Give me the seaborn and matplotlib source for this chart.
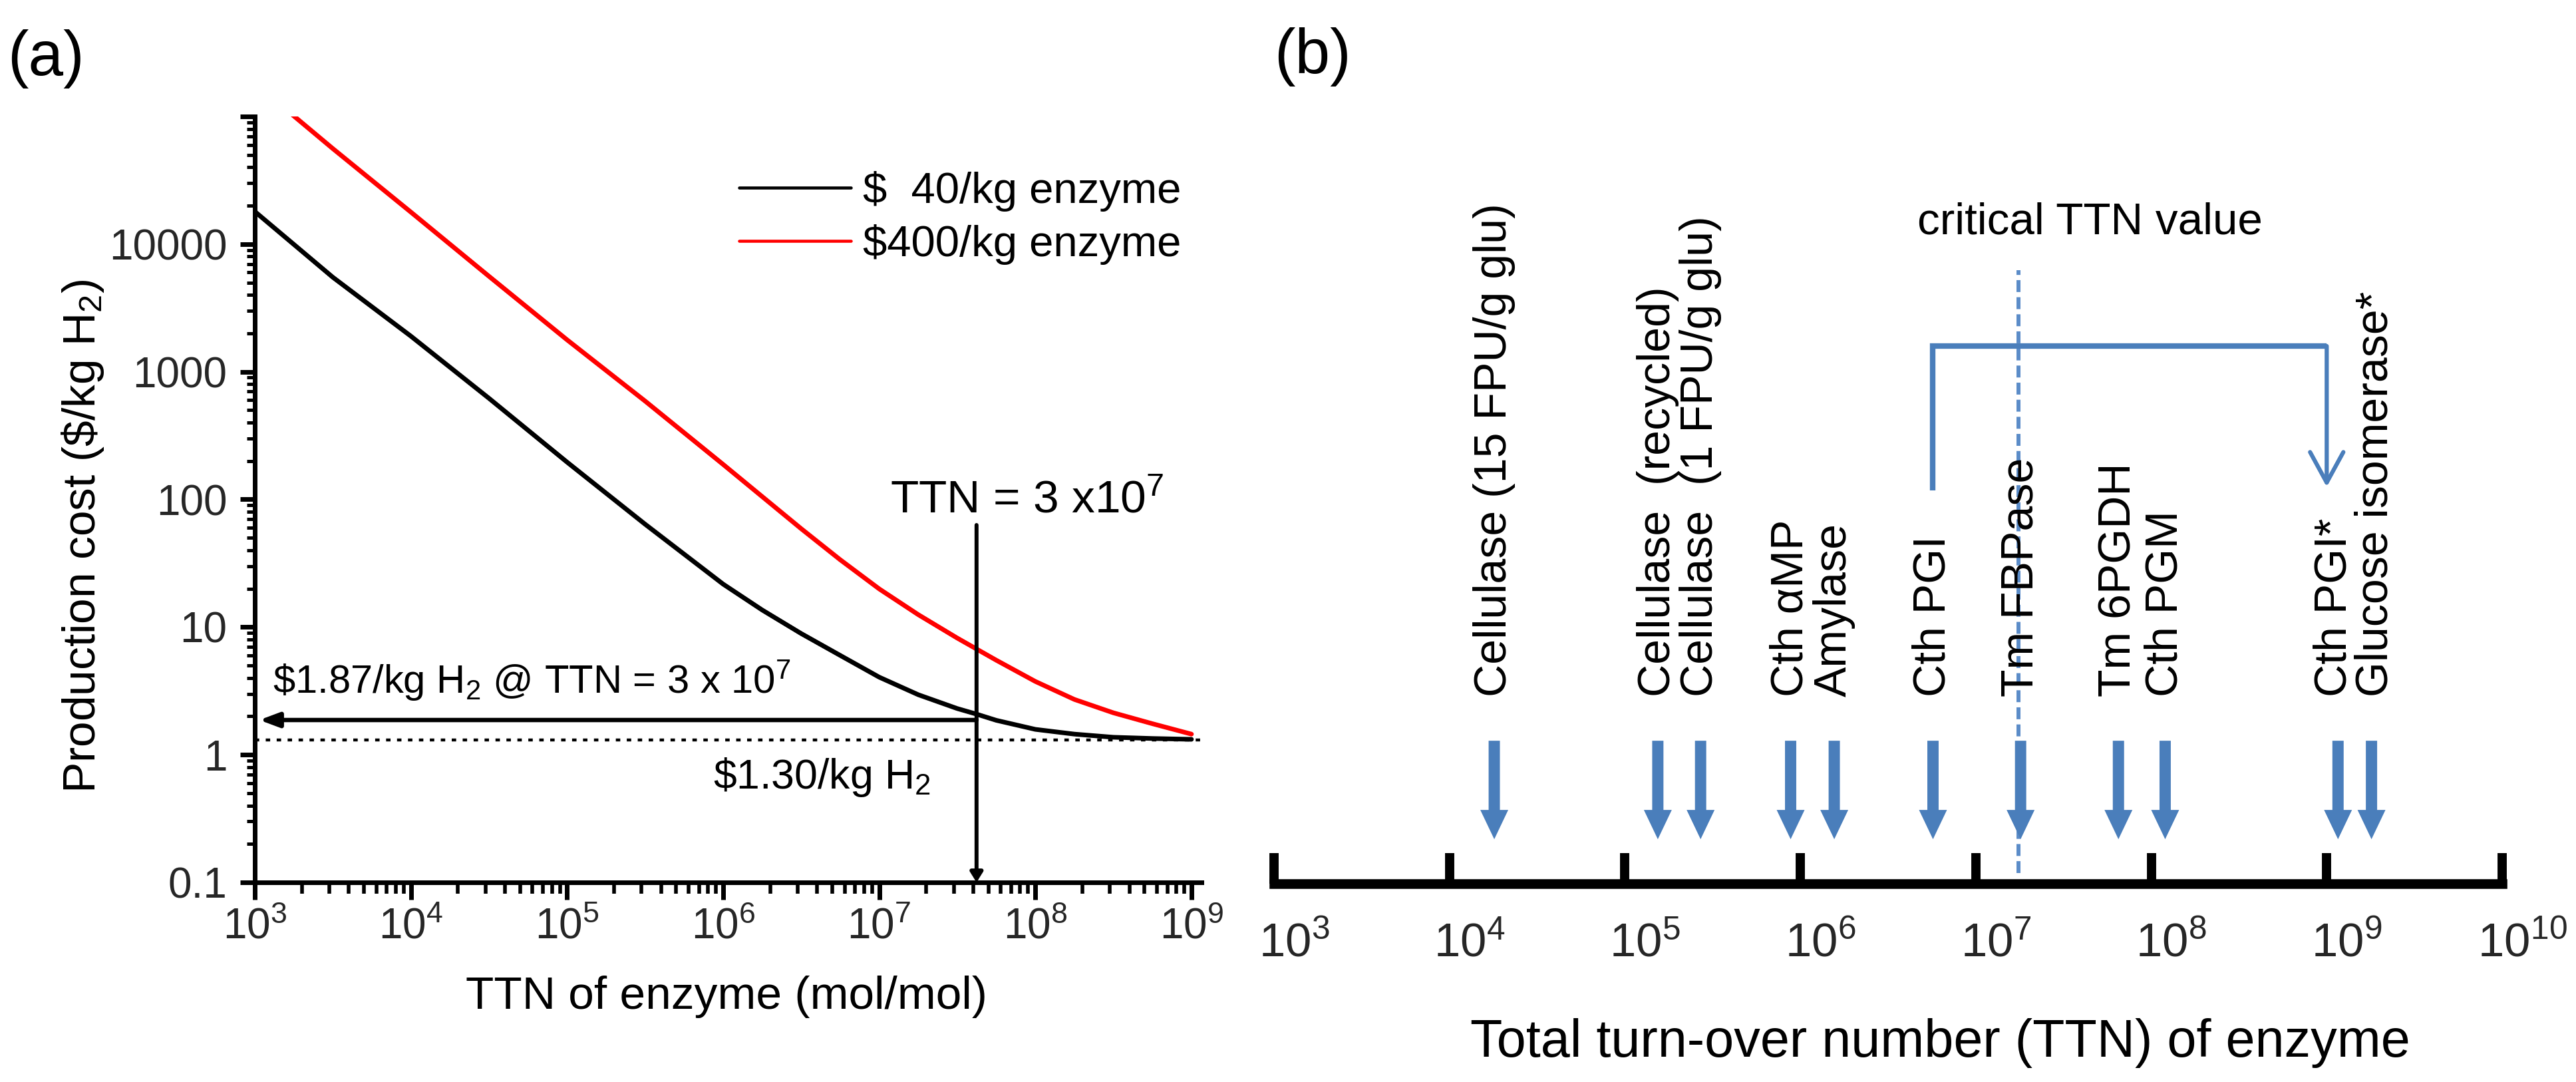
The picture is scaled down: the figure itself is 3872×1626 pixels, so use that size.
import numpy as np
import pandas as pd
import matplotlib
matplotlib.use("Agg")
import matplotlib.pyplot as plt
import matplotlib.ticker as mticker
from matplotlib.transforms import ScaledTranslation
import seaborn as sns

# ---------------- data: panel (a) ----------------
black_ttn = [1e3, 3.16e3, 1e4, 3.16e4, 1e5, 3.16e5, 1e6, 1.78e6, 3.16e6, 5.62e6, 1e7, 1.78e7,
             3.16e7, 4.2e7, 5.62e7, 1e8, 1.78e8, 3.16e8, 5.62e8, 1e9]
black_cost = [18000, 5500, 1900, 620, 196, 64, 21.7, 13.6, 8.9, 6.0, 4.05, 2.95,
              2.3, 2.08, 1.86, 1.58, 1.45, 1.37, 1.34, 1.32]
red_ttn = [1.5e3, 3.16e3, 1e4, 3.16e4, 1e5, 3.16e5, 1e6, 3.16e6, 5.62e6, 1e7, 1.78e7,
           3.16e7, 5.62e7, 1e8, 1.78e8, 3.16e8, 5.62e8, 1e9]
red_cost = [120000, 56000, 17800, 5600, 1780, 590, 188, 59, 33.7, 19.9, 12.5,
            8.2, 5.5, 3.75, 2.71, 2.13, 1.75, 1.45]
series_labels = ["\\$  40/kg enzyme", "\\$400/kg enzyme"]
series_colors = ["black", "red"]
base_cost = 1.30
marker_ttn = 4.2e7
marker_cost = 1.87
a_xticks = [1e3, 1e4, 1e5, 1e6, 1e7, 1e8, 1e9]
a_xticklabels = [r"$\mathregular{10^{%d}}$" % e for e in range(3, 10)]
a_yticks = [0.1, 1, 10, 100, 1000, 10000, 100000]
a_yticklabels = ["0.1", "1", "10", "100", "1000", "10000", ""]

# ---------------- data: panel (b) ----------------
enzymes = ["Cellulase (15 FPU/g glu)", "Cellulase  (recycled)", "Cellulase  (1 FPU/g glu)",
           "Cth \u03b1MP", "Amylase", "Cth PGI", "Tm FBPase", "Tm 6PGDH", "Cth PGM",
           "Cth PGI*", "Glucose isomerase*"]
enzyme_ttn = [1.8e4, 1.54e5, 2.7e5, 8.8e5, 1.56e6, 5.7e6, 1.8e7, 6.5e7, 1.2e8, 1.16e9, 1.8e9]
critical_ttn = 1.75e7
bracket_from = 5.7e6
bracket_to = 1.0e9
b_xticks = [1e3, 1e4, 1e5, 1e6, 1e7, 1e8, 1e9, 1e10]
b_xticklabels = [r"$\mathregular{10^{%d}}$" % e for e in range(3, 11)]

# ---------------- style ----------------
sns.set_style("white")
plt.rcParams["font.family"] = ["Liberation Sans", "DejaVu Sans"]
plt.rcParams["mathtext.fontset"] = "custom"
plt.rcParams["mathtext.rm"] = "Liberation Sans"
plt.rcParams["mathtext.it"] = "Liberation Sans:italic"
plt.rcParams["mathtext.bf"] = "Liberation Sans:bold"
plt.rcParams["text.color"] = "black"

W, H = 3873, 1626
fig = plt.figure(figsize=(W / 100, H / 100), dpi=100)
fig.patch.set_facecolor("white")

# ================= panel (a) =================
axA = fig.add_axes([383 / W, 1 - 1326 / H, (1806 - 383) / W, (1326 - 175) / H])
axA.set_xscale("log")
axA.set_yscale("log")

df = pd.DataFrame({
    "ttn": black_ttn + red_ttn,
    "cost": black_cost + red_cost,
    "price": [series_labels[0]] * len(black_ttn) + [series_labels[1]] * len(red_ttn),
})
sns.lineplot(data=df, x="ttn", y="cost", hue="price", hue_order=series_labels,
             palette=dict(zip(series_labels, series_colors)), linewidth=5,
             estimator=None, sort=False, ax=axA)

axA.set_xlim(1e3, 1.16e9)
axA.set_ylim(0.1, 1e5)
axA.set_xlabel("")
axA.set_ylabel("")
axA.set_facecolor("white")
for s in ["top", "right"]:
    axA.spines[s].set_visible(False)
for s in ["left", "bottom"]:
    axA.spines[s].set_linewidth(5)
    axA.spines[s].set_color("black")

axA.set_xticks(a_xticks, a_xticklabels)
axA.set_yticks(a_yticks, a_yticklabels)
axA.xaxis.set_minor_locator(mticker.LogLocator(base=10, subs=np.arange(2, 10), numticks=30))
axA.yaxis.set_minor_locator(mticker.LogLocator(base=10, subs=np.arange(2, 10), numticks=30))
axA.xaxis.set_minor_formatter(mticker.NullFormatter())
axA.yaxis.set_minor_formatter(mticker.NullFormatter())
axA.tick_params(axis="x", which="major", direction="out", length=19, width=5, pad=8,
                labelsize=46, color="black", bottom=True)
axA.tick_params(axis="x", which="minor", direction="out", length=12, width=4, bottom=True, color="black")
axA.tick_params(axis="y", which="major", direction="out", length=16, width=5, pad=14,
                labelsize=46, color="black", left=True)
axA.tick_params(axis="y", which="minor", direction="out", length=9, width=3.6, left=True, color="black")

h, l = axA.get_legend_handles_labels()
leg = axA.legend(h, series_labels, loc="upper left", bbox_to_anchor=(1111 / W, 1 - 257 / H),
                 bbox_transform=fig.transFigure, frameon=False, fontsize=47,
                 handlelength=2.57, handletextpad=0.28, labelspacing=0.29,
                 borderpad=0, borderaxespad=0)
for ln in leg.get_lines():
    ln.set_linewidth(3.3)

# reference lines and arrows
axA.axhline(base_cost, color="black", lw=3.2, ls=(0, (1.5, 2.2)))
axA.annotate("", xy=(marker_ttn, 0.1), xytext=(marker_ttn, 63),
             arrowprops=dict(arrowstyle="-|>,head_length=0.4,head_width=0.25", mutation_scale=22,
                             color="black", lw=4.3, shrinkA=0, shrinkB=0))
axA.annotate("", xy=(1.07e3, marker_cost), xytext=(marker_ttn, marker_cost),
             arrowprops=dict(arrowstyle="-|>,head_length=0.8,head_width=0.3", mutation_scale=22,
                             color="black", lw=4.7, shrinkA=0, shrinkB=0))

axA.text(1.17e7, 78.7, r"TTN = 3 x$\mathregular{10^{7}}$", fontsize=50, ha="left", va="baseline")
axA.text(1.30e3, 3.05, r"\$1.87/kg H$\mathregular{_{2}}$ @ TTN = 3 x $\mathregular{10^{7}}$",
         fontsize=43, ha="left", va="baseline")
axA.text(8.63e5, 0.542, r"\$1.30/kg H$\mathregular{_{2}}$", fontsize=45, ha="left", va="baseline")

fig.text(125 / W, 1 - 806 / H, r"Production cost (\$/kg H$\mathregular{_{2}}$)", rotation=90,
         fontsize=50, ha="center", va="center")
fig.text(1092 / W, 1 - 1516 / H, "TTN of enzyme (mol/mol)", fontsize=50, ha="center", va="baseline")
fig.text(11 / W, 1 - 113 / H, "(a)", fontsize=68, ha="left", va="baseline")

# ================= panel (b) =================
blue = "#4A7EBB"
axB = fig.add_axes([1915 / W, 1 - 1328 / H, (3761 - 1915) / W, (1328 - 300) / H])
axB.set_xscale("log")
axB.set_xlim(1e3, 1e10)
axB.set_ylim(0, 1)
axB.set_facecolor("none")
for s in ["top", "right", "left"]:
    axB.spines[s].set_visible(False)
axB.spines["bottom"].set_linewidth(10.5)
axB.spines["bottom"].set_color("black")
axB.set_yticks([])
axB.set_xticks(b_xticks, b_xticklabels)
axB.xaxis.set_minor_locator(mticker.NullLocator())
axB.tick_params(axis="x", which="major", direction="in", length=33, width=10, pad=42,
                labelsize=51, color="black", bottom=True)
for lab in axB.get_xticklabels():
    lab.set_transform(lab.get_transform() + ScaledTranslation(0.30, 0, fig.dpi_scale_trans))

xt = axB.get_xaxis_transform()
for t in enzyme_ttn:
    axB.annotate("", xy=(t, 0.065), xytext=(t, 0.209), xycoords=xt, textcoords=xt,
                 arrowprops=dict(arrowstyle="simple,head_length=31.7,head_width=30.2,tail_width=12.2",
                                 mutation_scale=1, color=blue, lw=0, shrinkA=0, shrinkB=0))

# labels: arrows that sit very close together share one two-line text block
groups = []
for name, t in zip(enzymes, enzyme_ttn):
    if groups and t / groups[-1][1][-1] < 1.6:
        groups[-1][0].append(name)
        groups[-1][1].append(t)
    else:
        groups.append(([name], [t]))
for names, ts in groups:
    xc = float(np.exp(np.mean(np.log(ts))))
    axB.text(xc, 0.273, "\n".join(names), transform=xt, rotation=90, ha="center", va="bottom",
             multialignment="left", linespacing=0.95, fontsize=49)

axB.plot([critical_ttn, critical_ttn], [0.0156, 0.897], color="#5B8CC8", lw=4.3, ls=(0, (3, 1.3)))
axB.text(4.65e6, 0.950, "critical TTN value", fontsize=48.5, ha="left", va="baseline")

axB.plot([bracket_from, bracket_from, bracket_to], [0.575, 0.786, 0.786], color=blue, lw=6,
         solid_joinstyle="miter", solid_capstyle="butt")
axB.annotate("", xy=(bracket_to, 0.580), xytext=(bracket_to, 0.786),
             arrowprops=dict(arrowstyle="->,head_length=33,head_width=18", mutation_scale=1,
                             color=blue, lw=4.5, shrinkA=0, shrinkB=0))

fig.text(2916 / W, 1 - 1588 / H, "Total turn-over number (TTN) of enzyme", fontsize=57,
         ha="center", va="baseline")
fig.text(1915 / W, 1 - 110 / H, "(b)", fontsize=68, ha="left", va="baseline")

fig.savefig("out.png", dpi=100, facecolor="white")
